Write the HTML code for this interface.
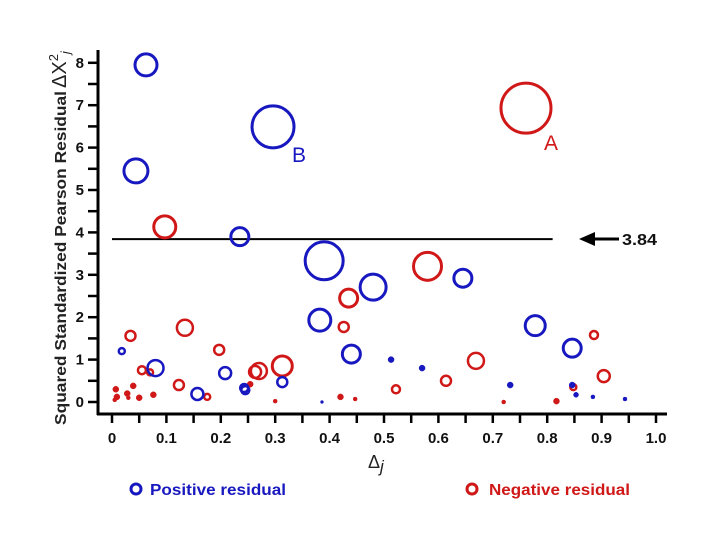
<!DOCTYPE html>
<html><head><meta charset="utf-8"><style>
html,body{margin:0;padding:0;background:#fff;}
svg{display:block;font-family:"Liberation Sans",Arial,sans-serif;}
</style></head><body>
<svg id="chart" width="720" height="540" viewBox="0 0 720 540" xmlns="http://www.w3.org/2000/svg">
<g id="axes"></g>
<g id="marks"></g>
<text transform="translate(66,258) rotate(-90)" text-anchor="middle" font-size="16" font-weight="bold" fill="#222" textLength="334" lengthAdjust="spacingAndGlyphs">Squared Standardized Pearson Residual</text>
<text transform="translate(66,88) rotate(-90)" font-size="20" fill="#222">Δ<tspan>X</tspan><tspan font-size="13" dy="-8">2</tspan><tspan font-size="13" dy="12" font-style="italic">j</tspan></text>
<text x="368" y="468" font-size="18" fill="#222">Δ<tspan font-style="italic" font-size="17" dy="4">j</tspan></text>
<text x="544" y="150" font-size="21" fill="#d01818">A</text>
<text x="292" y="162" font-size="21" fill="#1818c0">B</text>
<g>
<line x1="592" y1="239" x2="619" y2="239" stroke="#000" stroke-width="3"/>
<polygon points="579,239 595,232 595,246" fill="#000"/>
</g>
<text x="622" y="245" font-size="16" font-weight="bold" fill="#111" textLength="35" lengthAdjust="spacingAndGlyphs">3.84</text>
<g>
<circle cx="136" cy="489" r="5" fill="none" stroke="#1818c0" stroke-width="3"/>
<text x="150" y="495" font-size="16" font-weight="bold" fill="#1818c0" textLength="136" lengthAdjust="spacingAndGlyphs">Positive residual</text>
</g>
<g>
<circle cx="472" cy="489" r="5" fill="none" stroke="#d01818" stroke-width="3"/>
<text x="489" y="495" font-size="16" font-weight="bold" fill="#d01818" textLength="141" lengthAdjust="spacingAndGlyphs">Negative residual</text>
</g>
</svg>
<script>
const xTicks=[0,0.1,0.2,0.3,0.4,0.5,0.6,0.7,0.8,0.9,1.0];
const xTickLabels=["0","0.1","0.2","0.3","0.4","0.5","0.6","0.7","0.8","0.9","1.0"];
const yTicks=[0,1,2,3,4,5,6,7,8];
const threshold=3.84;
const posX=[0.0625,0.044,0.296,0.235,0.39,0.48,0.645,0.382,0.778,0.44,0.846,0.018,0.08,0.208,0.157,0.243,0.313,0.386,0.513,0.57,0.732,0.846,0.853,0.884,0.943,0.245];
const posY=[7.95,5.45,6.49,3.9,3.33,2.71,2.92,1.93,1.8,1.13,1.27,1.2,0.8,0.68,0.19,0.33,0.47,0,1.0,0.8,0.4,0.4,0.17,0.12,0.07,0.28];
const posR=[12,13,22,10,20,14,10,12,11,10,10,4,9,7,7,5,6,1.5,3,3,3,3,2.5,2,2,5];
const negX=[0.761,0.097,0.58,0.435,0.134,0.034,0.426,0.197,0.669,0.886,0.904,0.313,0.27,0.263,0.055,0.07,0.123,0.614,0.522,0.175,0.076,0.039,0.007,0.009,0.028,0.03,0.05,0.005,0.254,0.30,0.42,0.447,0.72,0.817,0.848];
const negY=[6.93,4.13,3.2,2.45,1.75,1.56,1.77,1.23,0.97,1.58,0.61,0.85,0.73,0.71,0.75,0.7,0.4,0.5,0.3,0.12,0.17,0.38,0.3,0.12,0.2,0.1,0.1,0.05,0.42,0.02,0.12,0.07,0,0.02,0.35];
const negR=[26,12,15,10,9,6,6,6,9,5,7,11,9,7,5,4,6,6,5,4,3,3,3,3,3,2,3,2,3,2,3,2,2,3,4];
const NS="http://www.w3.org/2000/svg";
const xs=v=>112+v*544;
const ys=v=>402-v*42.4;
const axes=document.getElementById('axes');
const marks=document.getElementById('marks');
function mk(tag,attrs,parent){const e=document.createElementNS(NS,tag);for(const k in attrs)e.setAttribute(k,attrs[k]);parent.appendChild(e);return e;}
let l=mk('line',{x1:98,y1:50,x2:98,y2:415,stroke:'#000','stroke-width':3},axes);


l=mk('line',{x1:97,y1:414,x2:667,y2:414,stroke:'#000','stroke-width':3},axes);


for(let i=0;i<=20;i++){const v=i*0.05;mk('line',{x1:xs(v),y1:414,x2:xs(v),y2:423,stroke:'#000','stroke-width':2.5},axes);}
xTicks.forEach((v,i)=>{const t=mk('text',{x:xs(v),y:443,'text-anchor':'middle','font-size':15,'font-weight':'bold',fill:'#111'},axes);t.textContent=xTickLabels[i];

});
for(let i=0;i<=16;i++){const v=i*0.5;mk('line',{x1:88,y1:ys(v),x2:98,y2:ys(v),stroke:'#000','stroke-width':2.5},axes);}
yTicks.forEach(v=>{const t=mk('text',{x:84,y:ys(v)+5,'text-anchor':'end','font-size':15,'font-weight':'bold',fill:'#111'},axes);t.textContent=String(v);

});
l=mk('line',{x1:xs(0),y1:ys(threshold),x2:xs(0.81),y2:ys(threshold),stroke:'#000','stroke-width':2},axes);


function draw(X,Y,R,color,name){X.forEach((x,i)=>{const r=R[i];const small=r<=3;
const c=mk('circle',{cx:xs(x),cy:ys(Y[i]),r:small?r:r-1,fill:small?color:'none',stroke:color,'stroke-width':small?0.5:(r>=10?3:2.5)},marks);

});}
draw(negX,negY,negR,'#d01818','negative-residual-point');
draw(posX,posY,posR,'#1818c0','positive-residual-point');
</script>
</body></html>
